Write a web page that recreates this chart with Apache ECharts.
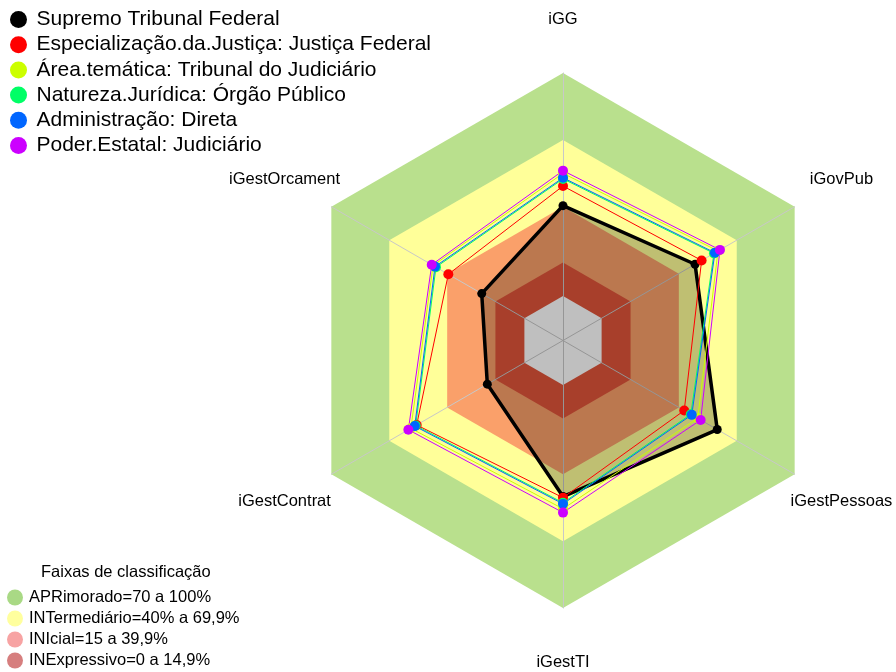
<!DOCTYPE html>
<html>
<head>
<meta charset="utf-8">
<script src="https://cdn.jsdelivr.net/npm/echarts@6/dist/echarts.min.js"></script>
<style>
  html, body { margin: 0; padding: 0; background: #fff; }
  #chart { width: 896px; height: 672px; }
</style>
</head>
<body>
<div id="chart"></div>
<script>
// eixos do radar (ordem anti-horária a partir do topo)
const indicadores = ['iGG', 'iGestOrcament', 'iGestContrat', 'iGestTI', 'iGestPessoas', 'iGovPub'];

// valores por grupo, mesma ordem dos indicadores
const supremo     = [40.5, 22.1, 19.2, 50.0, 59.9, 48.4];
const justFederal = [49.3, 39.4, 55.8, 50.5, 42.8, 51.8];
const areaTematica = [55.0, 47.3, 58.8, 55.5, 49.8, 60.3];
const natureza    = [52.5, 45.8, 56.3, 52.8, 46.2, 58.2];
const administracao = [53.0, 46.3, 56.8, 53.3, 46.7, 58.7];
const poderEstatal = [56.2, 48.0, 60.1, 57.2, 51.3, 61.3];

const nomesSeries = [
  'Supremo Tribunal Federal',
  'Especialização.da.Justiça: Justiça Federal',
  'Área.temática: Tribunal do Judiciário',
  'Natureza.Jurídica: Órgão Público',
  'Administração: Direta',
  'Poder.Estatal: Judiciário'
];
const valoresSeries = [supremo, justFederal, areaTematica, natureza, administracao, poderEstatal];
const coresSeries = ['#000000', '#FF0000', '#CCFF00', '#00FF66', '#0066FF', '#CC00FF'];

// faixas de classificação
const faixasNomes = [
  'APRimorado=70 a 100%',
  'INTermediário=40% a 69,9%',
  'INIcial=15 a 39,9%',
  'INExpressivo=0 a 14,9%'
];
const faixasLimites = [100, 70, 40, 15];
const faixasCores = ['#B9E08D', '#FFFF99', '#FAA06A', '#E0553A'];
const faixasCoresLegenda = ['#A9D985', '#FFFF9E', '#F7A3A3', '#D67E7E'];

const fonte = '"Liberation Sans", Arial, sans-serif';

const seriesFaixas = faixasLimites.map((lim, i) => ({
  name: faixasNomes[i],
  type: 'radar',
  z: 1,
  silent: true,
  symbol: 'none',
  itemStyle: { color: faixasCoresLegenda[i] },
  lineStyle: { width: 0 },
  areaStyle: { color: faixasCores[i], opacity: 1 },
  data: [{ value: indicadores.map(() => lim) }]
}));

// miolo branco (-20 a 0)
seriesFaixas.push({
  name: 'centro',
  type: 'radar',
  z: 1,
  silent: true,
  symbol: 'none',
  lineStyle: { width: 0 },
  areaStyle: { color: '#FFFFFF', opacity: 1 },
  data: [{ value: indicadores.map(() => 0) }]
});

const seriesDados = valoresSeries.map((vals, i) => ({
  name: nomesSeries[i],
  type: 'radar',
  z: 3,
  symbol: 'circle',
  symbolSize: i === 0 ? 9 : 10,
  itemStyle: { color: coresSeries[i] },
  lineStyle: { color: coresSeries[i], width: i === 0 ? 3.5 : 1 },
  areaStyle: i === 0 ? { color: 'rgba(0,0,0,0.25)', opacity: 1 } : undefined,
  data: [{ value: vals }]
}));

const chart = echarts.init(document.getElementById('chart'));
chart.setOption({
  animation: false,
  textStyle: { fontFamily: fonte },
  title: {
    text: 'Faixas de classificação',
    left: 41,
    top: 564,
    padding: 0,
    textStyle: { fontSize: 16.5, fontWeight: 'normal', color: '#000', fontFamily: fonte }
  },
  legend: [
    {
      data: nomesSeries,
      orient: 'vertical',
      left: 10,
      top: 9,
      padding: 0,
      icon: 'circle',
      itemWidth: 26,
      itemHeight: 17,
      itemGap: 4.2,
      selectedMode: false,
      textStyle: { fontSize: 21, color: '#000', fontFamily: fonte }
    },
    {
      data: faixasNomes.map((n, i) => ({
        name: n,
        itemStyle: { color: faixasCoresLegenda[i], borderColor: faixasCoresLegenda[i] }
      })),
      orient: 'vertical',
      left: 7,
      top: 589,
      padding: 0,
      height: 83,
      icon: 'circle',
      itemWidth: 18,
      itemHeight: 16,
      itemGap: 4,
      selectedMode: false,
      textStyle: { fontSize: 16.5, color: '#000', fontFamily: fonte }
    }
  ],
  radar: {
    center: [563, 340.5],
    radius: 267.5,
    startAngle: 90,
    shape: 'polygon',
    z: 2,
    nameGap: 54,
    axisName: {
      color: '#000',
      fontSize: 16.5,
      fontFamily: fonte,
      align: 'center',
      verticalAlign: 'middle',
      padding: [6, 0, 0, 0]
    },
    indicator: indicadores.map(n => ({ name: n, min: -20, max: 100 })),
    axisLine: { lineStyle: { color: '#C8C8C8', width: 1 } },
    splitLine: { show: false },
    splitArea: { show: false }
  },
  series: [...seriesFaixas, ...seriesDados]
});
</script>
</body>
</html>
